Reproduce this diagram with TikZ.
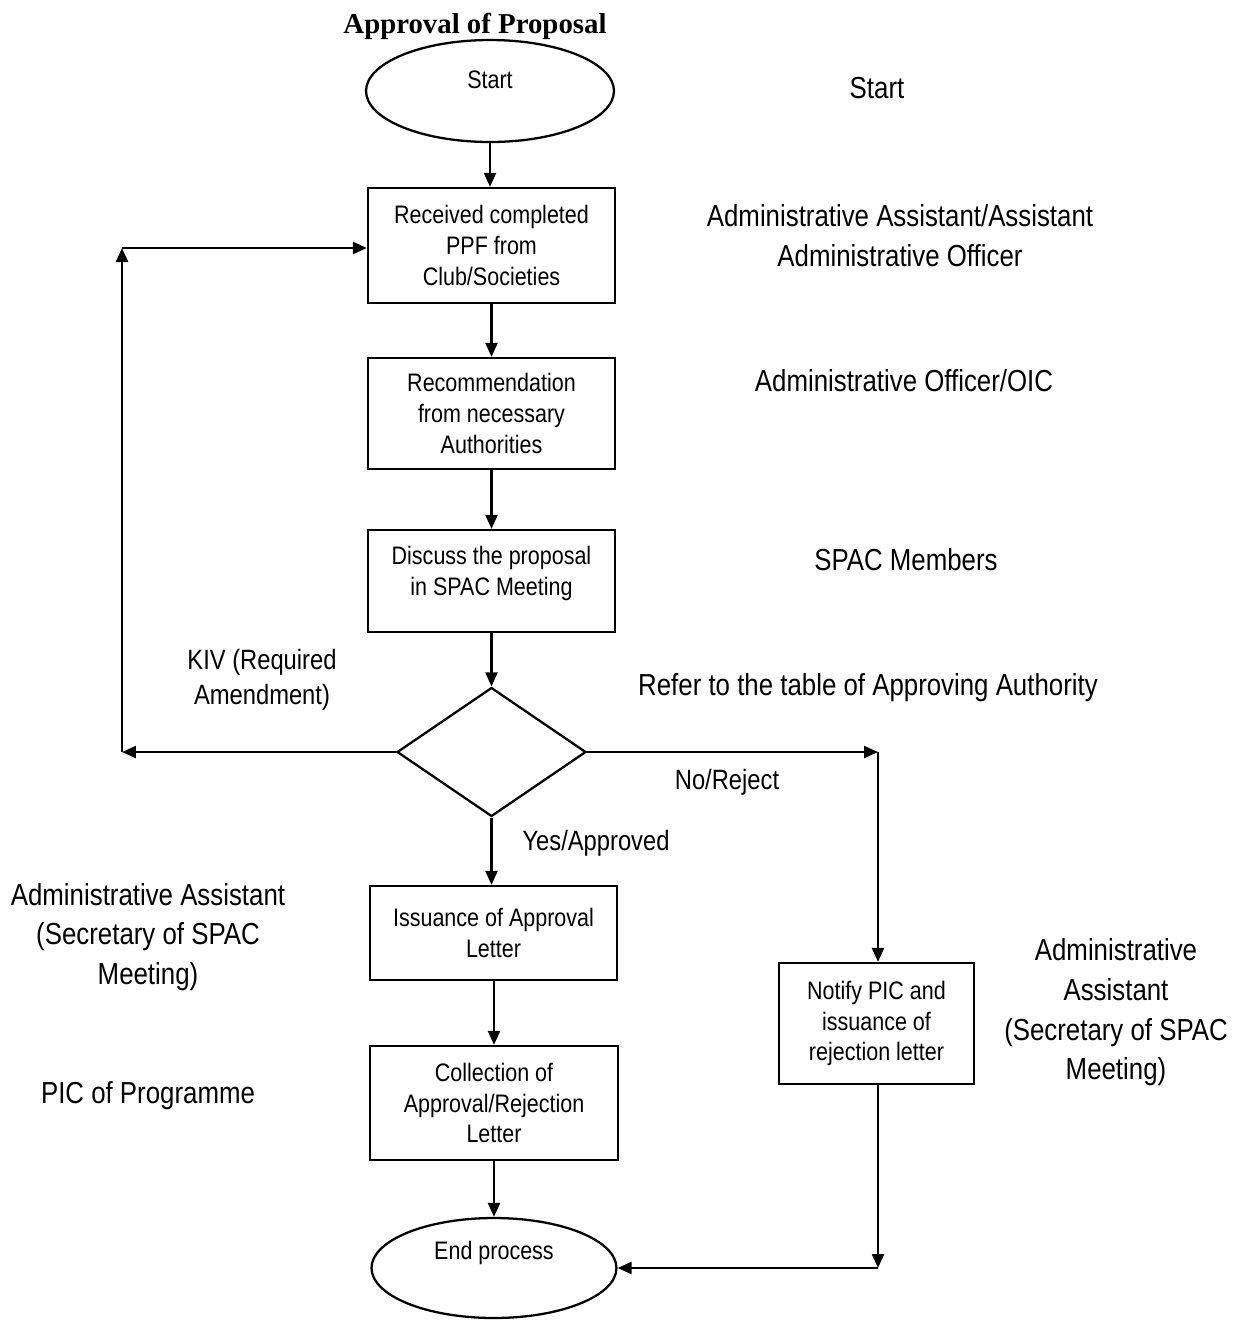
\documentclass[tikz,border=0pt]{standalone}
\usepackage{fontspec}
\setmainfont{Liberation Sans}[FakeStretch=0.85]
\newfontfamily\ttlfont{Liberation Serif}
\usetikzlibrary{shapes.geometric,arrows.meta}
\newcommand\bxfont{\fontsize{14.4pt}{17.6pt}\selectfont}
\newcommand\rlfont{\fontsize{17.3pt}{22.6pt}\selectfont}
\newcommand\edfont{\fontsize{15.9pt}{19.9pt}\selectfont}
\begin{document}
\begin{tikzpicture}[x=0.02cm,y=-0.02cm, line width=1.3pt,
  arr/.style={-{Triangle[length=0.28cm,width=0.24cm]}},
  proc/.style={draw, rectangle, align=center, font=\bxfont, inner sep=2pt},
  term/.style={draw, ellipse, inner sep=0pt},
  role/.style={align=center, font=\rlfont},
  edlab/.style={align=center, font=\edfont}]
\useasboundingbox (0,0) rectangle (1245,1320);
\fill[white] (0,0) rectangle (1245,1320);

% title
\node[font=\ttlfont\bfseries\fontsize{16.4pt}{20pt}\selectfont] (title) at (475,26) {Approval of Proposal};

% flow nodes
\node[term, minimum width=4.96cm, minimum height=2.04cm] (start) at (490,91) {};
\node[font=\bxfont] (starttxt) at (490,80) {Start};
\node[proc, minimum width=4.94cm, minimum height=2.3cm] (b1) at (491.5,245.5) {Received completed\\PPF from\\Club/Societies};
\node[proc, minimum width=4.94cm, minimum height=2.22cm] (b2) at (491.5,413.5) {Recommendation\\from necessary\\Authorities};
\node[proc, minimum width=4.94cm, minimum height=2.04cm, text depth=0.4cm] (b3) at (491.5,581) {Discuss the proposal\\in SPAC Meeting};
\node[draw, diamond, aspect=1, inner sep=0pt, minimum width=3.78cm, minimum height=2.58cm] (dia) at (491.5,752) {};
\node[proc, minimum width=4.94cm, minimum height=1.88cm] (b4) at (493.5,933) {Issuance of Approval\\Letter};
\node[proc, minimum width=4.96cm, minimum height=2.28cm] (b5) at (494,1103) {Collection of\\Approval/Rejection\\Letter};
\node[term, minimum width=4.9cm, minimum height=2.0cm] (end) at (494,1268) {};
\node[font=\bxfont] (endtxt) at (494,1253) {End process};
\node[proc, minimum width=3.9cm, minimum height=2.42cm] (notify) at (876.5,1023.5) {Notify PIC and\\issuance of\\rejection letter};

% helper coordinates
\coordinate (kivL) at (122,752);
\coordinate (kivT) at (122,248);
\coordinate (noR) at (878,752);
\coordinate (endR) at (878,1268);

% connectors
\draw[arr] (start.south) -- (start.south |- b1.north);
\draw[arr] (b1.south) -- (b2.north);
\draw[arr] (b2.south) -- (b3.north);
\draw[arr] (b3.south) -- (b3.south |- dia.north);
\draw[arr] (dia.west) -- (kivL);
\draw[arr] (kivL) -- (kivT);
\draw[arr] (kivT) -- (kivT -| b1.west);
\draw[arr] (dia.east) -- (noR);
\draw[arr] (noR) -- (noR |- notify.north);
\draw[arr] (dia.south) -- (dia.south |- b4.north);
\draw[arr] (b4.south -| b5.south) -- (b5.north);
\draw[arr] (b5.south) -- (b5.south |- end.north);
\draw[arr] (notify.south -| noR) -- (endR);
\draw[arr] (endR) -- (end.east);

% edge labels
\node[edlab] (kiv) at (262,680) {KIV (Required\\Amendment)};
\node[edlab] (no) at (727,782) {No/Reject};
\node[edlab] (yes) at (596,843) {Yes/Approved};

% role labels
\node[role] (r0) at (877,88) {Start};
\node[role] (r1) at (900,235.5) {Administrative Assistant/Assistant\\Administrative Officer};
\node[role] (r2) at (904,381) {Administrative Officer/OIC};
\node[role] (r3) at (906,560) {SPAC Members};
\node[role] (r4) at (868,688) {Refer to the table of Approving Authority};
\node[role] (r5) at (148,937) {Administrative Assistant\\(Secretary of SPAC\\Meeting)};
\node[role] (r6) at (148,1096) {PIC of Programme};
\node[role] (r7) at (1116,1012.5) {Administrative\\Assistant\\(Secretary of SPAC\\Meeting)};
\end{tikzpicture}
\end{document}
